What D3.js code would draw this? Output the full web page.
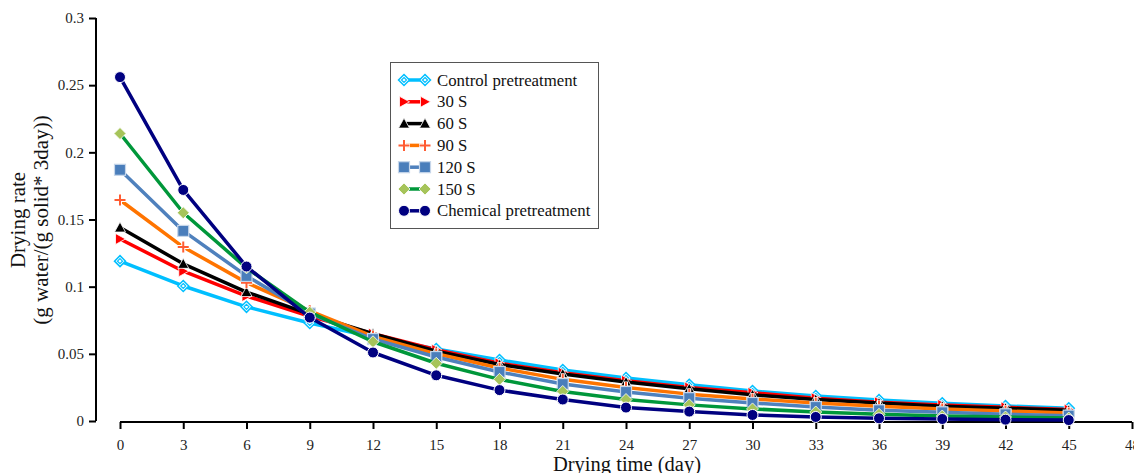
<!DOCTYPE html>
<html>
<head>
<meta charset="utf-8">
<script src="https://cdn.jsdelivr.net/npm/d3@7"></script>
<style>
  body { margin: 0; background: #fff; }
  svg { display: block; font-family: "Liberation Serif", "Times New Roman", serif; }
</style>
</head>
<body>
<svg id="chart" width="1134" height="473"></svg>
<script>
const days = [0, 3, 6, 9, 12, 15, 18, 21, 24, 27, 30, 33, 36, 39, 42, 45];
const xTicks = [0, 3, 6, 9, 12, 15, 18, 21, 24, 27, 30, 33, 36, 39, 42, 45, 48];
const yTicks = [0, 0.05, 0.1, 0.15, 0.2, 0.25, 0.3];

const controlVals = [0.119, 0.1005, 0.085, 0.073, 0.0625, 0.0536, 0.0454, 0.038, 0.032, 0.027, 0.0223, 0.0186, 0.0156, 0.0132, 0.0112, 0.0095];
const s30Vals = [0.1355, 0.1115, 0.093, 0.078, 0.065, 0.053, 0.043, 0.036, 0.030, 0.025, 0.021, 0.017, 0.014, 0.012, 0.0102, 0.0085];
const s60Vals = [0.144, 0.117, 0.096, 0.0796, 0.065, 0.052, 0.042, 0.035, 0.029, 0.024, 0.0195, 0.016, 0.0134, 0.011, 0.0095, 0.008];
const s90Vals = [0.1645, 0.1295, 0.103, 0.082, 0.063, 0.050, 0.0395, 0.031, 0.025, 0.020, 0.0164, 0.0134, 0.011, 0.009, 0.0074, 0.006];
const s120Vals = [0.187, 0.1415, 0.108, 0.080, 0.061, 0.0476, 0.0365, 0.0275, 0.0216, 0.017, 0.0134, 0.0104, 0.008, 0.0065, 0.005, 0.004];
const s150Vals = [0.214, 0.155, 0.114, 0.081, 0.059, 0.043, 0.031, 0.022, 0.016, 0.012, 0.009, 0.0067, 0.005, 0.0037, 0.003, 0.0022];
const chemVals = [0.256, 0.172, 0.115, 0.077, 0.051, 0.034, 0.023, 0.016, 0.010, 0.007, 0.0045, 0.003, 0.002, 0.0015, 0.001, 0.0007];

const seriesNames = ["Control pretreatment", "30 S", "60 S", "90 S", "120 S", "150 S", "Chemical pretreatment"];
const seriesVals = [controlVals, s30Vals, s60Vals, s90Vals, s120Vals, s150Vals, chemVals];
const lineColors = ["#00bfff", "#ff0000", "#000000", "#ff7400", "#4f81bd", "#00973a", "#000080"];
const markerColors = ["#00bfff", "#ff0000", "#000000", "#ff5c33", "#4a7ebb", "#a6c45a", "#000080"];
const markerKinds = ["hollowDiamond", "rightTriangle", "triangle", "plus", "square", "diamond", "circle"];

const svg = d3.select("#chart");

const x = d3.scaleLinear().domain([0, 48]).range([120, 1132]);
const y = d3.scaleLinear().domain([0, 0.3]).range([421, 18]);

// y axis
const yAxis = svg.append("g")
  .attr("transform", "translate(96,0)")
  .call(d3.axisLeft(y).tickValues(yTicks).tickSize(7).tickPadding(5).tickFormat(d => d3.format("")(+d.toFixed(2))));
yAxis.select(".domain").attr("d", "M0,18V421").attr("stroke", "#000").attr("stroke-width", 2);
yAxis.selectAll(".tick line").attr("stroke", "#000").attr("stroke-width", 2);
yAxis.selectAll(".tick text").attr("font-size", 15).attr("fill", "#222").attr("font-family", "Liberation Serif");

// x axis
const xAxis = svg.append("g")
  .attr("transform", "translate(0,422)")
  .call(d3.axisBottom(x).tickValues(xTicks).tickSize(7).tickPadding(10));
xAxis.select(".domain").attr("d", "M120,0H1132").attr("stroke", "#000").attr("stroke-width", 2);
xAxis.selectAll(".tick line").attr("stroke", "#000").attr("stroke-width", 2);
xAxis.selectAll(".tick text").attr("font-size", 15).attr("fill", "#222").attr("font-family", "Liberation Serif");

// titles
svg.append("text")
  .attr("transform", "translate(25,220) rotate(-90)")
  .attr("text-anchor", "middle")
  .attr("font-size", 21)
  .attr("fill", "#111")
  .text("Drying rate");
svg.append("text")
  .attr("transform", "translate(48,220) rotate(-90)")
  .attr("text-anchor", "middle")
  .attr("font-size", 21)
  .attr("fill", "#111")
  .text("(g water/(g solid* 3day))");
svg.append("text")
  .attr("x", 627)
  .attr("y", 471)
  .attr("text-anchor", "middle")
  .attr("font-size", 20.5)
  .attr("fill", "#111")
  .text("Drying time (day)");

function drawMarker(g, kind, cx, cy, color) {
  if (kind === "hollowDiamond") {
    g.append("path").attr("d", `M${cx},${cy - 5.5}L${cx + 5.5},${cy}L${cx},${cy + 5.5}L${cx - 5.5},${cy}Z`)
      .attr("fill", "#fff").attr("stroke", color).attr("stroke-width", 1.5);
    g.append("path").attr("d", `M${cx},${cy - 2.5}L${cx + 2.5},${cy}L${cx},${cy + 2.5}L${cx - 2.5},${cy}Z`)
      .attr("fill", "#fff").attr("stroke", color).attr("stroke-width", 1.2);
  } else if (kind === "rightTriangle") {
    g.append("path").attr("d", `M${cx - 4.5},${cy - 5.5}L${cx + 5.5},${cy}L${cx - 4.5},${cy + 5.5}Z`)
      .attr("fill", color).attr("stroke", "#fff").attr("stroke-width", 0.8);
  } else if (kind === "triangle") {
    g.append("path").attr("d", `M${cx},${cy - 5.5}L${cx + 5.5},${cy + 4.5}L${cx - 5.5},${cy + 4.5}Z`)
      .attr("fill", color).attr("stroke", "#fff").attr("stroke-width", 0.8);
  } else if (kind === "plus") {
    g.append("path").attr("d", `M${cx - 6},${cy}H${cx + 6}M${cx},${cy - 6}V${cy + 6}`)
      .attr("stroke", "#fff").attr("stroke-width", 4);
    g.append("path").attr("d", `M${cx - 5.5},${cy}H${cx + 5.5}M${cx},${cy - 5.5}V${cy + 5.5}`)
      .attr("stroke", color).attr("stroke-width", 2);
  } else if (kind === "square") {
    g.append("rect").attr("x", cx - 5.5).attr("y", cy - 5.5).attr("width", 11).attr("height", 11)
      .attr("fill", color).attr("stroke", "#c6d6ea").attr("stroke-width", 1.2);
  } else if (kind === "diamond") {
    g.append("path").attr("d", `M${cx},${cy - 6}L${cx + 6},${cy}L${cx},${cy + 6}L${cx - 6},${cy}Z`)
      .attr("fill", color).attr("stroke", "#fff").attr("stroke-width", 0.8);
  } else if (kind === "circle") {
    g.append("circle").attr("cx", cx).attr("cy", cy).attr("r", 5.5)
      .attr("fill", color).attr("stroke", "#fff").attr("stroke-width", 1);
  }
}

const line = d3.line().x(d => x(d[0])).y(d => y(d[1]));

seriesVals.forEach((vals, i) => {
  const pts = days.map((d, j) => [d, vals[j]]);
  const g = svg.append("g").attr("class", "series");
  g.append("path")
    .datum(pts)
    .attr("d", line)
    .attr("fill", "none")
    .attr("stroke", lineColors[i])
    .attr("stroke-width", 3.5)
    .attr("stroke-linejoin", "round");
  pts.forEach(p => drawMarker(g, markerKinds[i], x(p[0]), y(p[1]), markerColors[i]));
});

// legend
const legend = svg.append("g");
legend.append("rect")
  .attr("x", 390.5).attr("y", 62.5).attr("width", 208).attr("height", 166)
  .attr("fill", "#fff").attr("stroke", "#555").attr("stroke-width", 1);
seriesNames.forEach((name, i) => {
  const ly = 80 + i * 21.8;
  legend.append("line")
    .attr("x1", 403).attr("x2", 426).attr("y1", ly).attr("y2", ly)
    .attr("stroke", lineColors[i]).attr("stroke-width", 3.5);
  drawMarker(legend, markerKinds[i], 404, ly, markerColors[i]);
  drawMarker(legend, markerKinds[i], 425, ly, markerColors[i]);
  legend.append("text")
    .attr("x", 437).attr("y", ly + 5.5)
    .attr("font-size", 16.8)
    .attr("fill", "#111")
    .text(name);
});
</script>
</body>
</html>
